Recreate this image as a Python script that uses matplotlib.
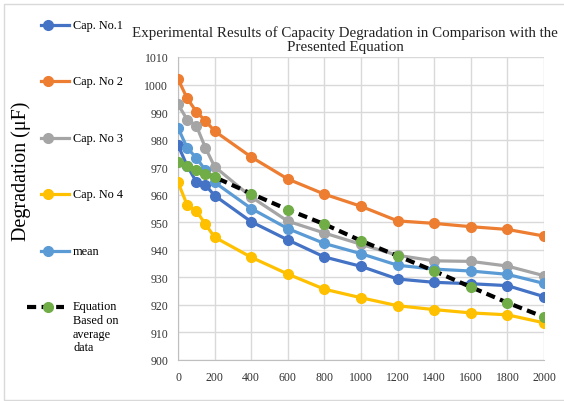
import matplotlib
matplotlib.use("Agg")
import matplotlib.pyplot as plt
from matplotlib.lines import Line2D
from matplotlib.patches import Rectangle

plt.rcParams['font.family'] = ['Liberation Serif', 'DejaVu Serif']

time = [0, 50, 100, 150, 200, 400, 600, 800, 1000, 1200, 1400, 1600, 1800, 2000]
cap1 = [978.0, 970.5, 964.7, 963.5, 959.7, 950.2, 943.6, 937.4, 934.0, 929.4, 928.2, 927.7, 927.0, 923.0]
cap2 = [1002.0, 995.0, 990.2, 986.8, 983.1, 973.7, 965.7, 960.2, 955.8, 950.5, 949.6, 948.4, 947.4, 945.0]
cap3 = [992.8, 987.3, 985.1, 977.0, 970.2, 959.2, 950.4, 946.1, 942.0, 938.0, 936.0, 935.8, 934.1, 930.6]
cap4 = [964.5, 956.3, 954.1, 949.3, 944.6, 937.3, 931.2, 925.7, 922.6, 919.7, 918.3, 917.1, 916.4, 913.5]
mean = [984.3, 977.0, 973.4, 968.9, 964.5, 955.0, 947.7, 942.3, 938.6, 934.4, 933.0, 932.3, 931.1, 927.8]
equation = [971.8, 970.6, 969.1, 967.7, 966.4, 960.4, 954.6, 949.3, 943.3, 937.8, 932.3, 926.5, 920.8, 915.6]

labels = ['Cap. No.1', 'Cap. No 2', 'Cap. No 3', 'Cap. No 4', 'mean',
          'Equation\nBased on\naverage\ndata']
colors = ['#4472C4', '#ED7D31', '#A5A5A5', '#FFC000', '#5B9BD5']
series = [cap1, cap2, cap3, cap4, mean]

W, H = 564, 402
fig = plt.figure(figsize=(W / 100, H / 100), dpi=100)
ax = fig.add_axes([178 / W, 1 - 361 / H, (544 - 178) / W, (361 - 58) / H])

for s, c in zip(series, colors):
    ax.plot(time, s, color=c, lw=2.3, marker='o', ms=7, mec=c, mfc=c, zorder=3)
ax.plot(time, equation, color='black', lw=3, dashes=(2.2, 1.3), marker='o', ms=7,
        mfc='#70AD47', mec='#70AD47', zorder=4)

ax.set_xlim(0, 2000)
ax.set_ylim(900, 1010)
ax.set_xticks(range(0, 2001, 200))
ax.set_yticks(range(900, 1011, 10))
ax.grid(True, color='#D9D9D9', lw=1)
ax.set_axisbelow(True)
for sp in ['top', 'right']:
    ax.spines[sp].set_visible(False)
for sp in ['left', 'bottom']:
    ax.spines[sp].set_color('#BFBFBF')
ax.tick_params(length=0, labelsize=8.5, pad=7, colors='#333333')
ax.tick_params(axis='x', pad=8)

fig.text(345 / W, 1 - 40 / H,
         'Experimental Results of Capacity Degradation in Comparison with the\nPresented Equation',
         ha='center', va='center', fontsize=10.8, linespacing=1.1, color='#222222')

# chart border
fig.add_artist(Rectangle((4 / W, 1.5 / H), 1.2, 1 - 6.5 / H, transform=fig.transFigure,
                         fill=False, ec='#D9D9D9', lw=1))

fig.text(21 / W, 1 - 171 / H, 'Degradation (\u03bcF)', rotation=90, ha='center', va='center',
         fontsize=14.5, bbox=dict(fc='white', ec='none', pad=1))

# legend
ys = [26, 82, 139, 195, 252]
for y, c, lab in zip(ys, colors, labels):
    yf = 1 - y / H
    fig.add_artist(Line2D([41 / W, 69 / W], [yf, yf], transform=fig.transFigure, color=c, lw=2.3))
    fig.add_artist(Line2D([48 / W], [yf], transform=fig.transFigure, color=c, marker='o', ms=7))
    fig.text(73 / W, yf, lab, ha='left', va='center', fontsize=8.8)
yf = 1 - 308 / H
fig.add_artist(Line2D([27 / W, 64 / W], [yf, yf], transform=fig.transFigure, color='black', lw=3,
                      dashes=(2.2, 1.3)))
fig.add_artist(Line2D([48 / W], [yf], transform=fig.transFigure, color='#70AD47', marker='o', ms=7))
fig.text(73 / W, yf + 7 / H, labels[5], ha='left', va='top', fontsize=8.8, linespacing=1.2)

fig.savefig('out.png', dpi=100)
